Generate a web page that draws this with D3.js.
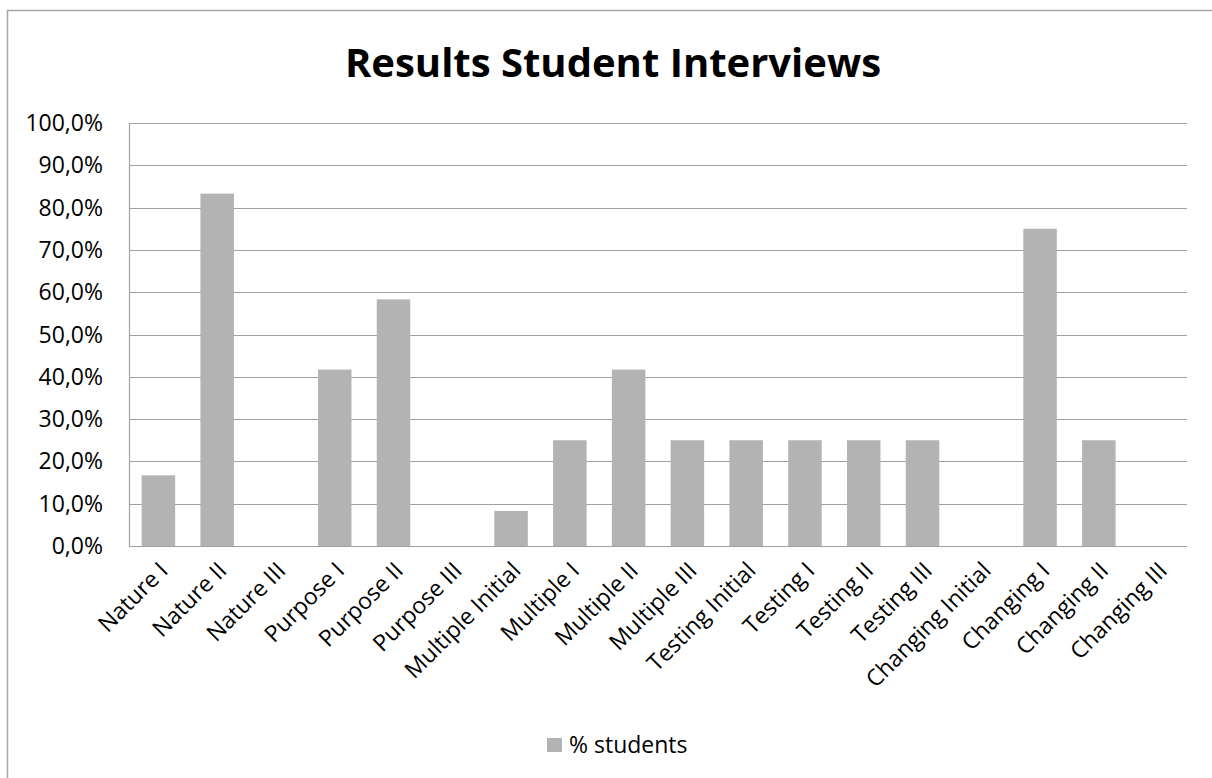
<!DOCTYPE html>
<html><head><meta charset="utf-8">
<script src="https://cdn.jsdelivr.net/npm/d3@7"></script>
<style>body{margin:0;background:#fff}svg{display:block}</style>
</head><body><svg id="c" width="1212" height="778"></svg>
<script>
const categories = ["Nature I","Nature II","Nature III","Purpose I","Purpose II","Purpose III","Multiple Initial","Multiple I","Multiple II","Multiple III","Testing Initial","Testing I","Testing II","Testing III","Changing Initial","Changing I","Changing II","Changing III"];
const values = [0.167,0.833,0,0.417,0.583,0,0.083,0.25,0.417,0.25,0.25,0.25,0.25,0.25,0,0.75,0.25,0];
const yTicks = [0,0.1,0.2,0.3,0.4,0.5,0.6,0.7,0.8,0.9,1.0];
const seriesName = "% students";
const title = "Results Student Interviews";

const svg = d3.select("#c");
const font = "'Open Sans', sans-serif";
const L = 129, R = 1187, T = 123, B = 546;
const x = d3.scaleBand().domain(categories).range([L, R]).paddingInner(0.43).paddingOuter(0.215);
const y = d3.scaleLinear().domain([0, 1]).range([B, T]);
const fmt = v => (v*100).toFixed(1).replace(".", ",") + "%";

// outer border
svg.append("path").attr("d", `M7.5,${778}V10.5H1212`).attr("fill","none").attr("stroke","#a6a6a6").attr("stroke-width",1.5);

svg.append("text").attr("x", 613).attr("y", 77).attr("text-anchor","middle")
  .attr("font-family", font).attr("font-weight","bold").attr("font-size", 40).attr("fill","#000").text(title);

// grid
svg.append("g").selectAll("line").data(yTicks).join("line")
  .attr("x1", L).attr("x2", R).attr("y1", d => Math.round(y(d))+0.5).attr("y2", d => Math.round(y(d))+0.5)
  .attr("stroke","#a0a0a0").attr("stroke-width",1.2);
svg.append("line").attr("x1", L+0.5).attr("x2", L+0.5).attr("y1", T).attr("y2", B).attr("stroke","#a0a0a0").attr("stroke-width",1.2);

// y labels
svg.append("g").selectAll("text").data(yTicks).join("text")
  .attr("x", 103).attr("y", d => y(d)+8).attr("text-anchor","end")
  .attr("font-family", font).attr("font-size", 23).attr("fill","#000").text(fmt);

// bars
svg.append("g").selectAll("rect").data(values).join("rect")
  .attr("x", (d,i) => x(categories[i])).attr("width", x.bandwidth())
  .attr("y", d => y(d)).attr("height", d => B - y(d)).attr("fill","#b3b3b3");

// x labels
svg.append("g").selectAll("text").data(categories).join("text")
  .attr("transform", d => `translate(${x(d)+x.bandwidth()/2+11},${572}) rotate(-45)`)
  .attr("text-anchor","end").attr("font-family", font).attr("font-size", 23).attr("fill","#000").text(d => d);

// legend
svg.append("rect").attr("x",547).attr("y",738).attr("width",15).attr("height",14).attr("fill","#b3b3b3");
svg.append("text").attr("x",569).attr("y",753).attr("font-family", font).attr("font-size",23).attr("fill","#000").text(seriesName);
</script></body></html>
